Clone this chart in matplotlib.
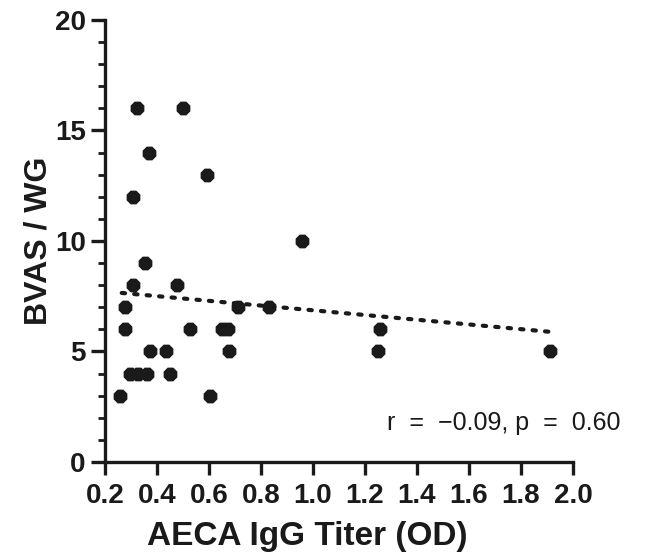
import numpy as np
import matplotlib
matplotlib.use('Agg')
import matplotlib.pyplot as plt
from matplotlib.ticker import MultipleLocator
from matplotlib import font_manager

# AECA IgG titer (OD) vs BVAS/WG
aeca = [0.322, 0.501, 0.367, 0.591, 0.307, 0.354, 0.309, 0.478,
        0.277, 0.713, 0.829, 0.277, 0.525, 0.650, 0.673, 0.373,
        0.435, 0.675, 0.296, 0.328, 0.360, 0.448, 0.258, 0.604,
        0.957, 1.258, 1.250, 1.913]
bvas = [16, 16, 14, 13, 12, 9, 8, 8,
        7, 7, 7, 6, 6, 6, 6, 5,
        5, 5, 4, 4, 4, 4, 3, 3,
        10, 6, 5, 5]

# regression line as drawn (slope / intercept)
fit_slope = -1.067
fit_intercept = 7.93
fit_range = [0.264, 1.913]

stats_text = 'r  =  \u22120.09, p  =  0.60'
x_label = 'AECA IgG Titer (OD)'
y_label = 'BVAS / WG'
x_ticks = [0.2, 0.4, 0.6, 0.8, 1.0, 1.2, 1.4, 1.6, 1.8, 2.0]
y_ticks = [0, 5, 10, 15, 20]

plt.rcParams['font.family'] = ['Liberation Sans', 'DejaVu Sans']

# narrow face for the stats text if it is there
names = set(f.name for f in font_manager.fontManager.ttflist)
if 'Liberation Sans Narrow' in names:
    stats_font, stats_size = 'Liberation Sans Narrow', 21.5
else:
    stats_font, stats_size = 'Liberation Sans', 18

fig = plt.figure(figsize=(6.57, 5.52), dpi=100)
ax = fig.add_axes([0.160, 0.163, 0.712, 0.801])

# scatter points
ax.scatter(aeca, bvas, s=115, marker='8', color='#1a1a1a', zorder=3,
           linewidths=0)

# dotted fit line
fx = np.array(fit_range)
fy = fit_intercept + fit_slope*fx
ax.plot(fx, fy, color='#1a1a1a', linewidth=3.0, linestyle=(0, (0.8, 2.2)),
        dash_capstyle='round', zorder=2)

# axes
ax.set_xlim(0.2, 2.0)
ax.set_ylim(0, 20)
ax.set_xticks(x_ticks)
ax.set_yticks(y_ticks)
ax.set_xticklabels(['{:.1f}'.format(t) for t in x_ticks])
ax.yaxis.set_minor_locator(MultipleLocator(1))
for side in ['top', 'right']:
    ax.spines[side].set_visible(False)
for side in ['left', 'bottom']:
    ax.spines[side].set_linewidth(2.4)
    ax.spines[side].set_color('#1a1a1a')
ax.tick_params(axis='both', which='major', direction='out', width=2.4,
               color='#1a1a1a', labelsize=20, labelcolor='#1a1a1a')
ax.tick_params(axis='x', which='major', length=9, pad=6)
ax.tick_params(axis='y', which='major', length=10, pad=4)
ax.tick_params(axis='y', which='minor', length=5, width=2.0,
               color='#1a1a1a')
for lab in ax.get_xticklabels() + ax.get_yticklabels():
    lab.set_fontweight('bold')

ax.set_xlabel(x_label, fontsize=24, fontweight='bold', color='#1a1a1a')
ax.set_ylabel(y_label, fontsize=23, fontweight='bold', color='#1a1a1a')
ax.xaxis.set_label_coords(0.433, -0.134)
ax.yaxis.set_label_coords(-0.111, 0.5)

# correlation annotation
ax.text(0.603, 0.088, stats_text, transform=ax.transAxes, ha='left',
        va='center', fontsize=stats_size, color='#1a1a1a', clip_on=False,
        family=[stats_font, 'DejaVu Sans'])

fig.savefig('out.png', dpi=100)
